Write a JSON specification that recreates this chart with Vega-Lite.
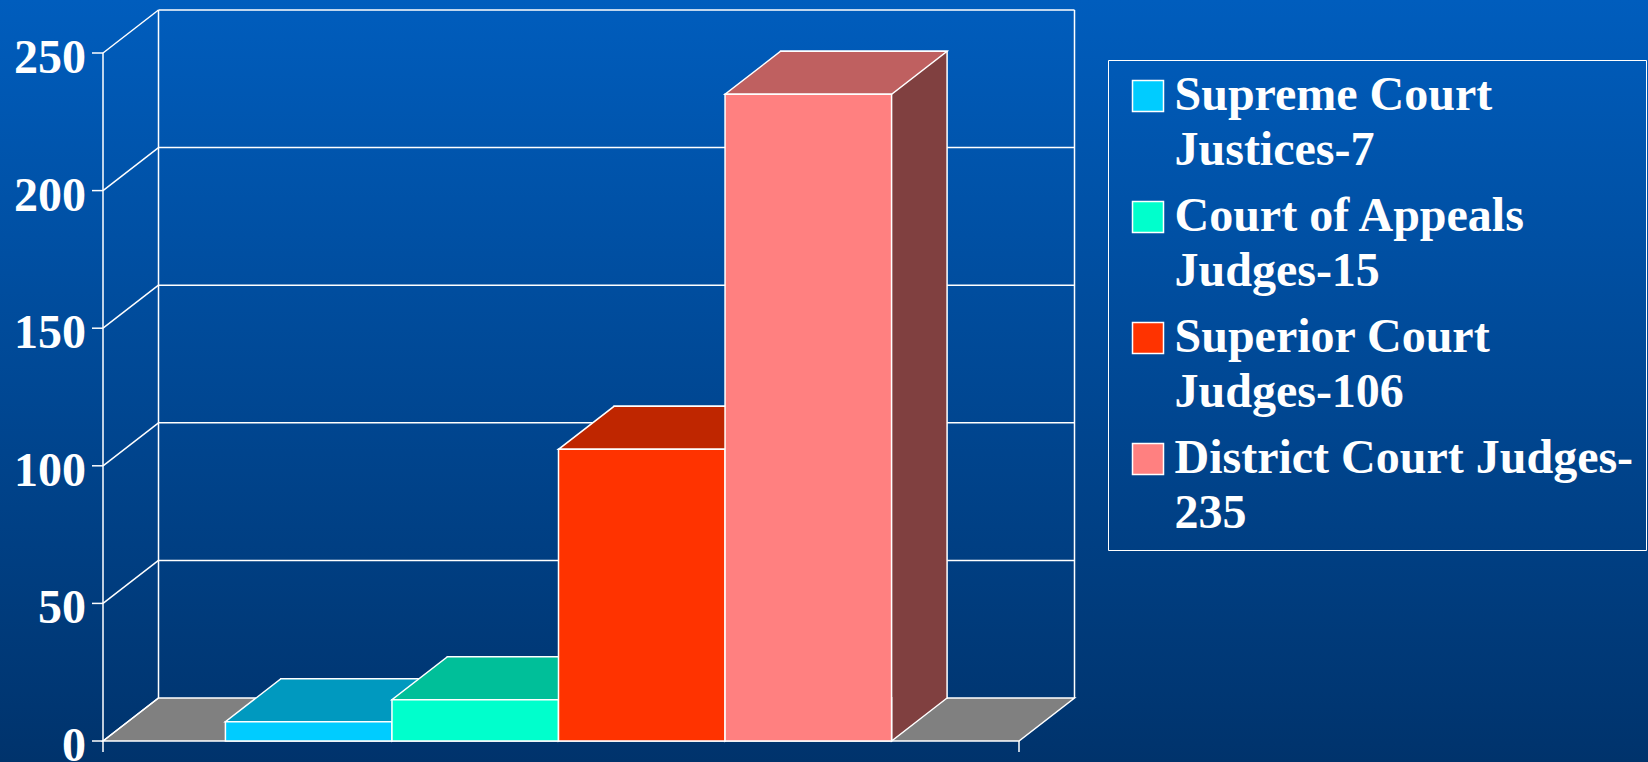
{
  "$schema": "https://vega.github.io/schema/vega-lite/v6.json",
  "width": 1648,
  "height": 762,
  "autosize": {"type": "none"},
  "padding": 0,
  "background": "#00488F",
  "datasets": {
    "courts": [
      {"court": "Supreme Court Justices-7", "judges": 7},
      {"court": "Court of Appeals Judges-15", "judges": 15},
      {"court": "Superior Court Judges-106", "judges": 106},
      {"court": "District Court Judges-235", "judges": 235}
    ],
    "ticks": [{"t": 0}, {"t": 50}, {"t": 100}, {"t": 150}, {"t": 200}, {"t": 250}]
  },
  "layer": [
    {
      "layer": [
        {
          "data": {"name": "ticks"},
          "transform": [{"filter": "datum.t === 0"}],
          "mark": {"type": "point", "shape": "M0,0L55.5,-43L971.5,-43L916,0Z", "size": 4, "filled": true, "fill": "#808080", "stroke": "#FFFFFF", "strokeWidth": 1.5, "opacity": 1},
          "encoding": {
            "x": {"datum": 0, "type": "quantitative", "scale": {"domain": [0, 1], "range": [103, 1019]}, "axis": null},
            "y": {"field": "t", "type": "quantitative", "scale": {"domain": [0, 250], "range": [741, 53], "nice": false, "zero": true}, "axis": null}
          }
        },
        {
          "data": {"name": "ticks"},
          "transform": [{"filter": "datum.t > 0"}],
          "mark": {"type": "rule", "stroke": "#FFFFFF", "strokeWidth": 1.5, "xOffset": 55.5, "x2Offset": 55.5, "yOffset": -43},
          "encoding": {
            "x": {"datum": 0, "type": "quantitative", "axis": null},
            "x2": {"datum": 1},
            "y": {"field": "t", "type": "quantitative", "axis": null}
          }
        },
        {
          "data": {"name": "ticks"},
          "mark": {"type": "point", "shape": "M0,0L55.5,-43", "size": 4, "filled": false, "stroke": "#FFFFFF", "strokeWidth": 1.5, "opacity": 1},
          "encoding": {
            "x": {"datum": 0, "type": "quantitative", "axis": null},
            "y": {"field": "t", "type": "quantitative", "axis": null}
          }
        },
        {
          "data": {"name": "ticks"},
          "transform": [{"filter": "datum.t === 250"}],
          "mark": {"type": "rule", "stroke": "#FFFFFF", "strokeWidth": 1.5, "xOffset": 55.5, "yOffset": -43, "y2Offset": -43},
          "encoding": {
            "x": {"datum": 0, "type": "quantitative", "axis": null},
            "y": {"field": "t", "type": "quantitative", "axis": null},
            "y2": {"datum": 0}
          }
        },
        {
          "data": {"name": "ticks"},
          "transform": [{"filter": "datum.t === 250"}],
          "mark": {"type": "rule", "stroke": "#FFFFFF", "strokeWidth": 1.5, "xOffset": 55.5, "yOffset": -43, "y2Offset": -43},
          "encoding": {
            "x": {"datum": 1, "type": "quantitative", "axis": null},
            "y": {"field": "t", "type": "quantitative", "axis": null},
            "y2": {"datum": 0}
          }
        },
        {
          "data": {"name": "ticks"},
          "transform": [{"filter": "datum.t === 250"}],
          "mark": {"type": "rule", "stroke": "#FFFFFF", "strokeWidth": 1.5, "y2Offset": 11},
          "encoding": {
            "x": {"datum": 0, "type": "quantitative", "axis": null},
            "y": {"field": "t", "type": "quantitative", "axis": null},
            "y2": {"datum": 0}
          }
        },
        {
          "data": {"name": "ticks"},
          "transform": [{"filter": "datum.t === 0"}],
          "mark": {"type": "rule", "stroke": "#FFFFFF", "strokeWidth": 1.5, "y2Offset": 11},
          "encoding": {
            "x": {"datum": 1, "type": "quantitative", "axis": null},
            "y": {"field": "t", "type": "quantitative", "axis": null},
            "y2": {"field": "t"}
          }
        },
        {
          "data": {"name": "ticks"},
          "mark": {"type": "rule", "stroke": "#FFFFFF", "strokeWidth": 1.5, "x2Offset": -11},
          "encoding": {
            "x": {"datum": 0, "type": "quantitative", "axis": null},
            "x2": {"datum": 0},
            "y": {"field": "t", "type": "quantitative", "axis": null}
          }
        },
        {
          "data": {"name": "ticks"},
          "mark": {"type": "text", "align": "right", "baseline": "alphabetic", "dx": -17, "dy": 20, "font": "Liberation Serif", "fontWeight": "bold", "fontSize": 48, "fill": "#FFFFFF"},
          "encoding": {
            "x": {"datum": 0, "type": "quantitative", "axis": null},
            "y": {"field": "t", "type": "quantitative", "axis": null},
            "text": {"field": "t", "type": "quantitative"}
          }
        }
      ]
    },
    {
      "data": {"name": "courts"},
      "layer": [
        {
          "mark": {"type": "bar", "xOffset": 55.5, "x2Offset": 55.5, "yOffset": -43, "y2Offset": -43, "stroke": "#FFFFFF", "strokeWidth": 1.5},
          "encoding": {
            "x": {"field": "court", "type": "nominal", "sort": null, "scale": {"range": [103, 1019], "paddingInner": 0, "paddingOuter": 0.75, "align": 0.49}, "axis": null},
            "y": {"field": "judges", "type": "quantitative", "axis": null},
            "fill": {"condition": [
              {"test": "datum.court === 'Supreme Court Justices-7'", "value": "#006680"},
              {"test": "datum.court === 'Court of Appeals Judges-15'", "value": "#008066"},
              {"test": "datum.court === 'Superior Court Judges-106'", "value": "#801A00"}
            ], "value": "#804040"}
          }
        },
        {
          "mark": {"type": "point", "shape": "M83.27,-44L83.27,0L138.77,-43L138.77,-44", "size": 4, "filled": true, "stroke": "#FFFFFF", "strokeWidth": 1.5, "opacity": 1},
          "encoding": {
            "x": {"field": "court", "type": "nominal", "sort": null, "axis": null},
            "y": {"datum": 0, "type": "quantitative", "axis": null},
            "fill": {"condition": [
              {"test": "datum.court === 'Supreme Court Justices-7'", "value": "#006680"},
              {"test": "datum.court === 'Court of Appeals Judges-15'", "value": "#008066"},
              {"test": "datum.court === 'Superior Court Judges-106'", "value": "#801A00"}
            ], "value": "#804040"}
          }
        },
        {
          "mark": {"type": "point", "shape": "M-83.27,0L83.27,0L138.77,-43L-27.73,-43Z", "size": 4, "filled": true, "stroke": "#FFFFFF", "strokeWidth": 1.5, "opacity": 1},
          "encoding": {
            "x": {"field": "court", "type": "nominal", "sort": null, "axis": null},
            "y": {"field": "judges", "type": "quantitative", "axis": null},
            "fill": {"condition": [
              {"test": "datum.court === 'Supreme Court Justices-7'", "value": "#0099BF"},
              {"test": "datum.court === 'Court of Appeals Judges-15'", "value": "#00BF99"},
              {"test": "datum.court === 'Superior Court Judges-106'", "value": "#BF2600"}
            ], "value": "#BF6060"}
          }
        },
        {
          "mark": {"type": "bar", "stroke": "#FFFFFF", "strokeWidth": 1.5},
          "encoding": {
            "x": {"field": "court", "type": "nominal", "sort": null, "axis": null},
            "y": {"field": "judges", "type": "quantitative", "axis": null},
            "color": {
              "field": "court", "type": "nominal",
              "scale": {
                "domain": ["Supreme Court Justices-7", "Court of Appeals Judges-15", "Superior Court Judges-106", "District Court Judges-235"],
                "range": ["#00CCFF", "#00FFCC", "#FF3300", "#FF8080"]
              },
              "legend": {
                "orient": "none", "legendX": 1108, "legendY": 60, "title": null,
                "strokeColor": "#FFFFFF", "padding": 12,
                "symbolType": "square", "symbolSize": 961, "symbolStrokeColor": "#FFFFFF", "symbolStrokeWidth": 1.5, "symbolOpacity": 1,
                "symbolOffset": 4, "labelOffset": 2.5,
                "labelFont": "Liberation Serif", "labelFontWeight": "bold", "labelFontSize": 48, "labelColor": "#FFFFFF", "labelLimit": 800,
                "rowPadding": 18,
                "labelExpr": "datum.label === 'District Court Judges-235' ? ['District Court Judges-', '235'] : [slice(datum.label, 0, lastindexof(datum.label, ' ')), slice(datum.label, lastindexof(datum.label, ' ') + 1)]"
              }
            }
          }
        }
      ]
    }
  ],
  "resolve": {"scale": {"x": "independent"}},
  "config": {
    "view": {
      "stroke": null,
      "fill": {"gradient": "linear", "x1": 0, "y1": 0, "x2": 0, "y2": 1, "stops": [{"offset": 0, "color": "#005DBD"}, {"offset": 1, "color": "#00336C"}]}
    },
    "style": {"guide-label": {"lineHeight": 55}}
  }
}
